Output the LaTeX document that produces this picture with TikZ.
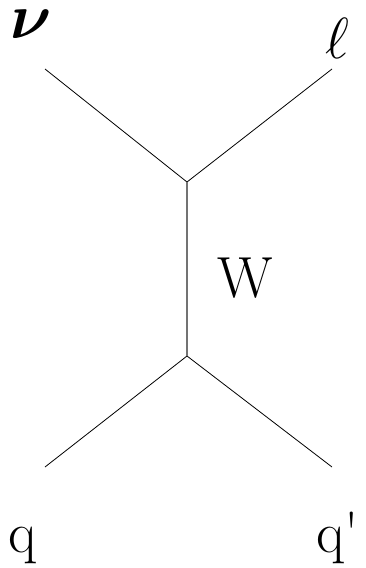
\RequirePackage{fix-cm}
\documentclass[tikz,border=0pt]{standalone}
\usepackage{amsmath,amssymb}
\usetikzlibrary{positioning}
\begin{document}
\begin{tikzpicture}[
                x=1pt, y=-1pt,
                fermion/.style={black, line width=0.8pt},
                boson/.style={black!55, line width=1.4pt},
                lbl/.style={inner sep=0pt, anchor=base west, font=\fontsize{58}{70}\selectfont}
            ]
                \useasboundingbox (0,0) rectangle (365,568);

                % Vertices
                \coordinate (vtop) at (187,182);
                \coordinate (vbot) at (187,356);

                % External legs
                \coordinate (nuend) at (45,69);
                \coordinate (lend) at (332,69);
                \coordinate (qend) at (45,467);
                \coordinate (qpend) at (332,467);

                % Lines
                \draw[fermion] (nuend) -- (vtop);
                \draw[fermion] (lend) -- (vtop);
                \draw[fermion] (qend) -- (vbot);
                \draw[fermion] (qpend) -- (vbot);
                \draw[boson] (vtop) -- (vbot);

                % Labels
                \node[lbl, font=\fontsize{64}{70}\selectfont] (nu) at (10,38) {$\boldsymbol{\nu}$};
                \node[lbl] (ell) at (325,58) {$\ell$};
                \node[lbl] (w) at (217,297) {W};
                \node[lbl] (q) at (8,552) {q};
                \node[lbl] (qp) at (316,552) {q\textquotesingle};
            \end{tikzpicture}
\end{document}
